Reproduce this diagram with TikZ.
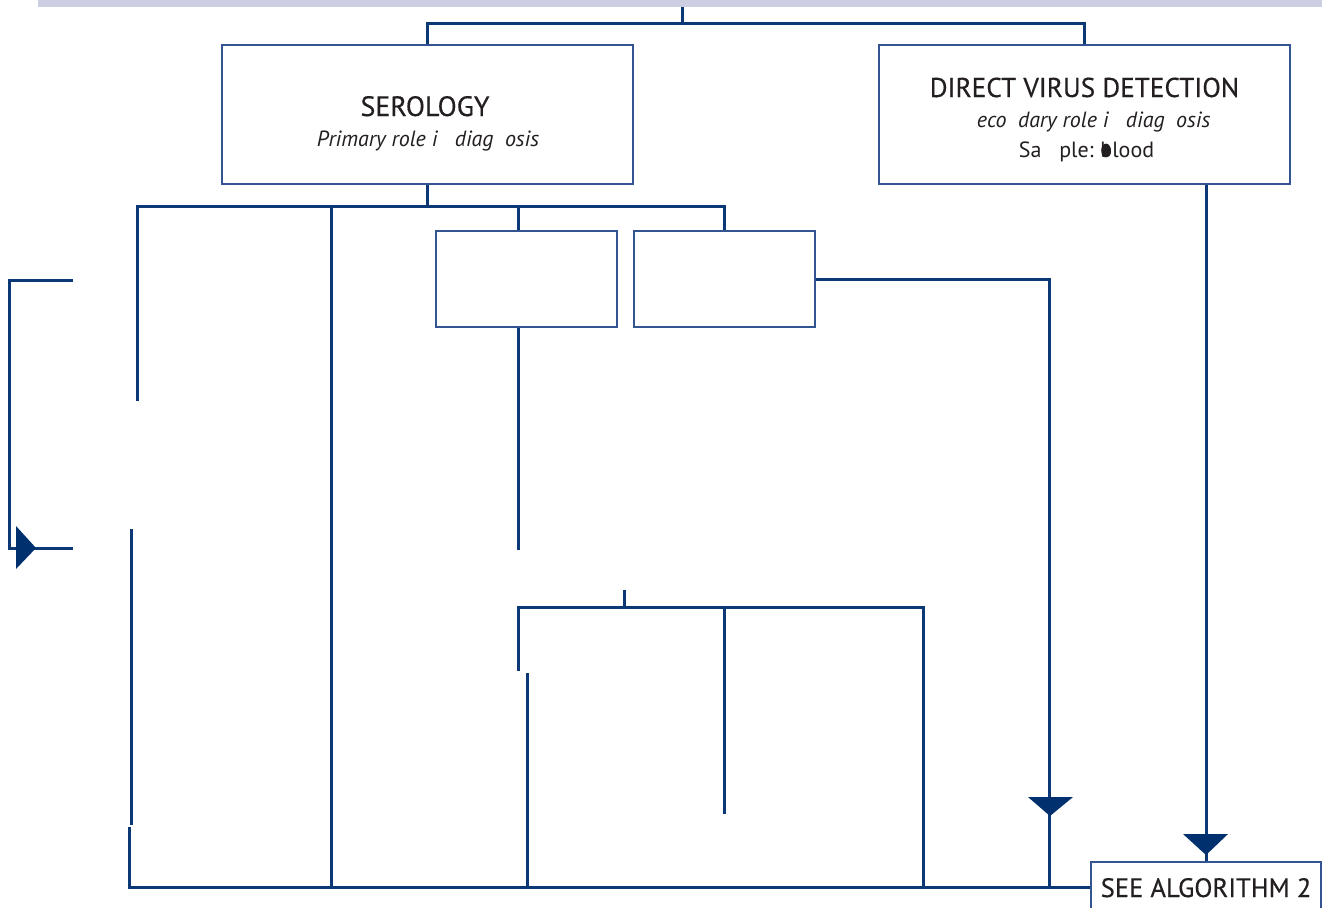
\documentclass[tikz,border=0pt]{standalone}
\usepackage{fontspec}
\setmainfont{PT Sans}
\newfontfamily\headfont[FakeBold=0.4]{PT Sans}
\usetikzlibrary{calc}
\definecolor{navy}{RGB}{12,56,118}
\definecolor{arrowfill}{RGB}{0,48,110}
\definecolor{boxline}{RGB}{50,85,145}
\definecolor{band}{RGB}{204,207,226}
\definecolor{ink}{RGB}{35,31,32}
\begin{document}
\begin{tikzpicture}[x=0.5pt,y=-0.5pt,
  conn/.style={draw=navy,line width=1.5pt},
  box/.style={draw=boxline,line width=0.7pt,inner sep=0pt,fill=white},
  tipfill/.style={fill=arrowfill,draw=none},
  title/.style={font=\headfont\fontsize{14}{16}\selectfont,text=ink,inner sep=0pt,anchor=base},
  sub/.style={font=\fontsize{11}{13}\selectfont\itshape,text=ink,inner sep=0pt,anchor=base},
  plain/.style={font=\fontsize{11}{13}\selectfont,text=ink,inner sep=0pt,anchor=base}]
\clip (0,0) rectangle (1322,907);

% header band
\fill[band] (38,0) rectangle (1322,7);

% boxes
\node[box,minimum width=205.5pt,minimum height=69.5pt] (sero) at (427.5,114.5) {};
\node[box,minimum width=205.5pt,minimum height=69.5pt] (dvd) at (1084.5,114.5) {};
\node[box,minimum width=90.5pt,minimum height=48pt] (boxA) at (526.5,279) {};
\node[box,minimum width=90.5pt,minimum height=48pt] (boxB) at (724.5,279) {};
\node[box,minimum width=115pt,minimum height=25pt] (see) at (1206,887) {};

% box texts
\node[title] (serot) at (425,116) {SEROLOGY};
\node[sub] (seros) at (428,146) {Primary role i\phantom{n} diag\phantom{n}osis};
\node[title,font=\headfont\fontsize{13.6}{16}\selectfont] (dvdt) at (1084.5,97) {DIRECT VIRUS DETECTION};
\node[sub] (dvds) at (1088,127) {\phantom{S}eco\phantom{n}dary role i\phantom{n} diag\phantom{n}osis};
\node[plain,anchor=base east] (smpA) at (1094,157) {Sa\phantom{m}ple:};
\node[plain,anchor=base west] (smpB) at ([xshift=3pt]smpA.base east) {blood};
\fill[ink] ([xshift=3pt,yshift=3.3pt]smpB.base west) ellipse [x radius=2.4pt, y radius=3.4pt];
\node[title,font=\headfont\fontsize{13.3}{16}\selectfont] (seet) at (1206,897) {SEE ALGORITHM 2};

% free ends of connectors
\coordinate (topc) at (682,7);
\coordinate (split0) at (682,23);
\coordinate (bus1) at (427.5,206);
\coordinate (l1end) at (137,401);
\coordinate (c331top) at (331,206);
\coordinate (c331bot) at (331,887);
\coordinate (aEnd) at (518,550);
\coordinate (bTurn) at (1049,279);
\coordinate (bBot) at (1049,887);
\coordinate (lbA) at (73,280);
\coordinate (lbB) at (73,548);
\coordinate (l2top) at (131,529);
\coordinate (l2end) at (131,825);
\coordinate (l3top) at (129,827);
\coordinate (stubT) at (624,590);
\coordinate (busM) at (624,607);
\coordinate (mL) at (518,607);
\coordinate (mLend) at (518,671);
\coordinate (mL2) at (527,673);
\coordinate (mC) at (724,607);
\coordinate (mCend) at (724,814);
\coordinate (mR) at (923,607);

% connectors
\draw[conn] (topc) -- (split0);
\draw[conn] (sero.north) |- (split0) -| (dvd.north);
\draw[conn] (sero.south) -- (bus1);
\draw[conn] (l1end) -- (137,206) -| (boxB.north);
\draw[conn] ([xshift=-4.25pt]boxA.north) -- ([xshift=-4.25pt]boxA.north |- bus1);
\draw[conn] (c331top) -- (c331bot);
\draw[conn] ([xshift=-4.25pt]boxA.south) -- (aEnd);
\draw[conn] (boxB.east) -- (bTurn) -- (bBot);
\draw[conn] (dvd.south -| see.north) -- (see.north);
\draw[conn] (lbA) -- (9,280) -- (9,548) -- (lbB);
\draw[conn] (l2top) -- (l2end);
\draw[conn] (l3top) -- (129,887) -- (see.west);
\draw[conn] (stubT) -- (busM);
\draw[conn] (mLend) -- (mL) -- (mR) -- (mR |- see.west);
\draw[conn] (mL2) -- (mL2 |- see.west);
\draw[conn] (mC) -- (mCend);

% arrow heads
\fill[tipfill] (16,526) -- (16,569) -- (36,548) -- cycle;
\fill[tipfill] (1028,797) -- (1073,797) -- (1050,816) -- cycle;
\fill[tipfill] (1183,834) -- (1228,834) -- (1206,855) -- cycle;
\end{tikzpicture}
\end{document}
